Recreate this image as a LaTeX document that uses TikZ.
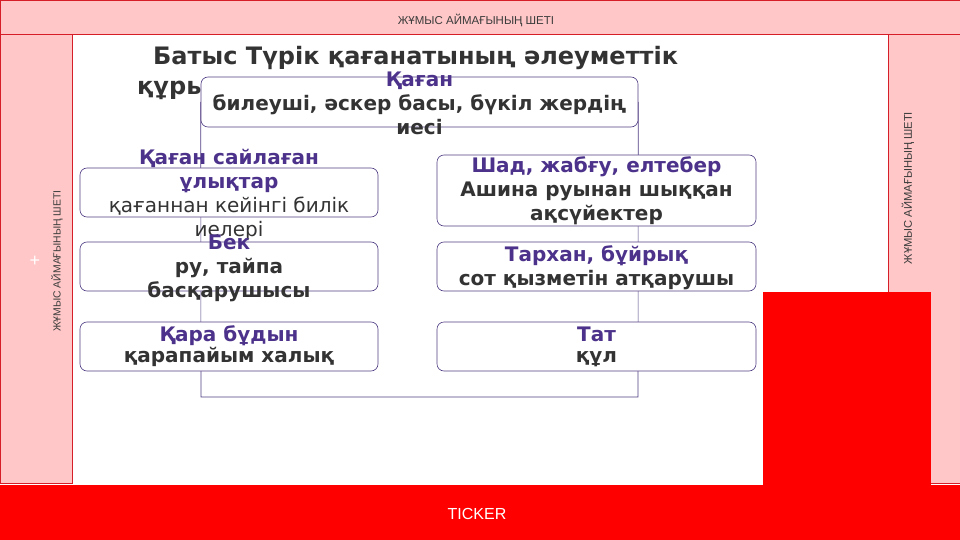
\documentclass[tikz,border=0pt]{standalone}
\usepackage{fontspec}
\setmainfont{DejaVu Sans}
\newfontfamily\bandfont{Liberation Sans}
\usetikzlibrary{backgrounds}
\definecolor{bandpink}{RGB}{255,199,199}
\definecolor{bandred}{RGB}{214,30,40}
\definecolor{bandgray}{RGB}{60,60,60}
\definecolor{tickred}{RGB}{255,0,0}
\definecolor{rankpurple}{RGB}{76,50,138}
\definecolor{boxline}{RGB}{80,60,130}
\definecolor{textgray}{RGB}{51,51,51}

\begin{document}
\begin{tikzpicture}[x=1pt, y=-1pt,
  band/.style={draw=bandred, fill=bandpink, line width=0.8pt},
  band text/.style={font=\bandfont\fontsize{11.5}{12}\selectfont, text=bandgray, inner sep=0pt},
  rankbox/.style={draw=boxline, fill=white, rounded corners=7pt, line width=0.6pt, inner sep=0pt},
  rank/.style={align=center, font=\bfseries\fontsize{20}{24}\selectfont, text=textgray, inner sep=0pt},
  small rank/.style={rank, font=\bfseries\fontsize{20}{21}\selectfont},
  title/.style={font=\bfseries\fontsize{24}{28}\selectfont, text=textgray, inner sep=0pt, anchor=base west},
  link/.style={draw=boxline, line width=0.6pt}]
  \useasboundingbox (0,0) rectangle (960,540);

  % edges of the slide
  \draw[band] (0,0) rectangle (960,34);
  \draw[band] (0,34) rectangle (72,483);
  \draw[band] (888,34) rectangle (960,483);
  \fill[tickred] (0,485) rectangle (960,540);
  \fill[tickred] (763,292) rectangle (931,485);
  \node[band text] (toplbl) at (476,20) {ЖҰМЫС АЙМАҒЫНЫҢ ШЕТІ};
  \node[band text, font=\bandfont\fontsize{10.4}{11}\selectfont, rotate=90] (leftlbl) at (57,261) {ЖҰМЫС АЙМАҒЫНЫҢ ШЕТІ};
  \node[band text, font=\bandfont\fontsize{11.2}{12}\selectfont, rotate=90] (rightlbl) at (908,188) {ЖҰМЫС АЙМАҒЫНЫҢ ШЕТІ};
  \node[text=white, font=\bandfont\fontsize{18}{18}\selectfont, inner sep=0pt] (plus) at (35,261) {+};
  \node[text=white, font=\bandfont\fontsize{16}{16}\selectfont] (ticker) at (477,514) {TICKER};

  % title
  \node[title] (title1) at (153,65) {Батыс Түрік қағанатының әлеуметтік};
  \node[title] (title2) at (137,95) {құрылымы};

  % ranks
  \node[rankbox, minimum width=437pt, minimum height=50pt] (kagan) at (419.5,102) {};
  \node[rankbox, minimum width=298pt, minimum height=49pt] (ulyk) at (229,192.5) {};
  \node[rankbox, minimum width=298pt, minimum height=49pt] (bek) at (229,266.5) {};
  \node[rankbox, minimum width=298pt, minimum height=49pt] (kara) at (229,346.5) {};
  \node[rankbox, minimum width=319pt, minimum height=71pt] (shad) at (596.5,190.5) {};
  \node[rankbox, minimum width=319pt, minimum height=49pt] (tarkhan) at (596.5,266.5) {};
  \node[rankbox, minimum width=319pt, minimum height=49pt] (tat) at (596.5,346.5) {};

  \node[rank] (kagan-t) at ([yshift=-1pt]kagan) {\textcolor{rankpurple}{Қаған}\\билеуші, әскер басы, бүкіл жердің\\иесі};
  \node[rank] (ulyk-t) at ([yshift=-2.5pt]ulyk) {\textcolor{rankpurple}{Қаған сайлаған}\\\textcolor{rankpurple}{ұлықтар}\\\mdseries қағаннан кейінгі билік\\\mdseries иелері};
  \node[rank] (bek-t) at ([yshift=-1.5pt]bek) {\textcolor{rankpurple}{Бек}\\ру, тайпа\\басқарушысы};
  \node[small rank] (kara-t) at (kara) {\textcolor{rankpurple}{Қара бұдын}\\қарапайым халық};
  \node[rank] (shad-t) at (shad) {\textcolor{rankpurple}{Шад, жабғу, елтебер}\\Ашина руынан шыққан\\ақсүйектер};
  \node[rank] (tarkhan-t) at ([yshift=-1.5pt]tarkhan) {\textcolor{rankpurple}{Тархан, бұйрық}\\сот қызметін атқарушы};
  \node[small rank] (tat-t) at (tat) {\textcolor{rankpurple}{Тат}\\құл};

  \coordinate (cl) at (201,397);
  \coordinate (cr) at (638,397);
  \begin{pgfonlayer}{background}
    \draw[link] (kagan.west) -- (cl) -- (cr) -- (kagan.east);
  \end{pgfonlayer}
\end{tikzpicture}
\end{document}
